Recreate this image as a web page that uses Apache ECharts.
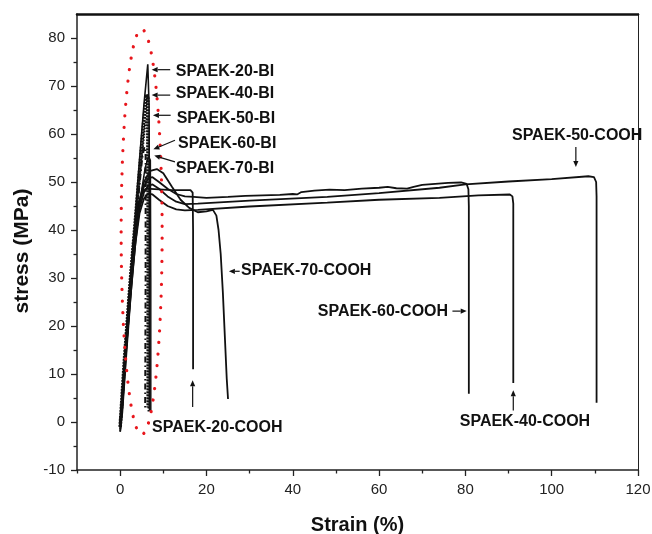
<!DOCTYPE html>
<html><head><meta charset="utf-8">
<script src="https://cdn.jsdelivr.net/npm/echarts@6/dist/echarts.min.js"></script>
<style>html,body{margin:0;padding:0;background:#fff}#c{width:652px;height:534px}</style>
</head><body><div id="c"></div>
<script>
// ---- tick labels ----
const xTickLabels = [0, 20, 40, 60, 80, 100, 120];
const xMinorTicks = [-10, 10, 30, 50, 70, 90, 110];
const yTickLabels = [-10, 0, 10, 20, 30, 40, 50, 60, 70, 80];
const yMinorTicks = [-5, 5, 15, 25, 35, 45, 55, 65, 75];

// ---- series values: [strain %, stress MPa] ----
const bi20 = [[0,-2],[0.5,3],[2,24],[4,49],[5.5,66],[6.4,74.5],[6.7,66],[6.8,40],[6.8,2.4]];
const bi40 = [[0,-1],[1,13],[2.5,31],[4,47],[5.3,61],[6.1,68.2],[6.4,67.5],[6.5,40],[6.5,3]];
const bi50 = [[0,0],[1.5,18],[3,36],[4.5,51],[5.8,62],[6.4,63.6],[6.6,60],[6.6,2]];
const bi60 = [[0,0],[1,11],[2.5,29],[4,45],[5.1,55],[5.6,57.3],[5.9,56.5],[5.9,30],[5.8,2.5]];
const bi70 = [[0,0],[1.5,16],[3,32],[4.5,45.5],[5.8,53],[6.6,55.3],[7.0,54.5],[7.1,30],[7.1,2]];

const cooh20 = [[0,-1],[1,13],[2,26],[3,37],[4,44.5],[5,47.8],[6,48.6],[8,48.5],[12,48.3],[16.3,48.3],[16.8,47.8],[16.9,40],[16.9,11]];
const cooh70 = [[0,-1],[0.5,5],[1.5,18],[2.5,30],[3.5,40],[4.5,46],[5.5,50],[7,52.3],[8.5,52.7],[10,51.8],[12,49],[14,46.3],[16,44.6],[18,43.7],[20,43.9],[21.5,44.2],[22.3,43],[22.8,40],[23.3,35],[23.8,27],[24.3,17],[24.7,9],[25,4.8]];
const cooh60 = [[0,-1],[0.5,4],[1.5,17],[2.5,29],[3.5,39],[4.5,45.5],[5.5,49],[6.5,50.8],[7.5,51],[9,50],[11,48.6],[13,47.5],[15,47],[17,46.9],[20,46.7],[25,46.9],[29,47.1],[33,47.2],[37,47.3],[40,47.5],[41,47.4],[42,47.9],[45,48.2],[48.5,48.4],[52,48.3],[56,48.6],[60,48.8],[62,49],[64,48.7],[66.5,48.6],[68,49],[70,49.4],[73,49.6],[76,49.8],[79,49.9],[80.3,49.6],[80.7,48.5],[80.8,45],[80.8,5.9]];
const cooh50 = [[0,-1.5],[0.5,3],[1.5,16],[2.5,28],[3.5,38],[4.5,44.5],[5.5,47.8],[6.5,49.2],[7.5,49.5],[9,48.6],[11,47],[13,45.9],[15,45.4],[18,45.5],[30,46.1],[48,46.9],[60,47.7],[74,48.8],[80,49.5],[90,50.1],[100,50.6],[108.5,51.2],[109.8,51],[110.3,50],[110.4,47],[110.4,4]];
const cooh40 = [[0,-2],[0.5,2],[1.5,15],[2.5,27],[3.5,37],[4.5,43.5],[5.5,46.5],[6.5,47.6],[7.5,47.4],[9,46.3],[11,45],[13,44.3],[15,44.1],[18,44.2],[30,44.9],[48,45.7],[60,46.3],[74,46.7],[83,47.2],[90.3,47.4],[90.9,47],[91.1,45.5],[91.1,8.1]];

// ---- annotations (data coords) ----
const annoText = ['SPAEK-20-BI','SPAEK-40-BI','SPAEK-50-BI','SPAEK-60-BI','SPAEK-70-BI','SPAEK-70-COOH','SPAEK-60-COOH','SPAEK-50-COOH','SPAEK-20-COOH','SPAEK-40-COOH'];
const annoAt = [[12.9,72.9],[12.9,68.4],[13.1,63.2],[13.4,58.0],[12.9,52.8],[28.0,31.6],[76.0,23.1],[105.9,59.7],[7.4,-1.1],[93.8,0.15]];
const annoAlign = ['left','left','left','left','left','left','right','center','left','center'];
const arrowFrom = [[11.6,73.4],[11.6,68.1],[11.7,63.9],[12.7,58.7],[12.7,54.2],[27.7,31.4],[77.0,23.1],[105.6,57.3],[16.8,3.1],[91.1,2.4]];
const arrowTo = [[7.3,73.4],[7.3,68.1],[7.6,63.9],[7.7,56.8],[7.9,55.5],[25.2,31.4],[80.3,23.1],[105.6,53.1],[16.8,8.7],[91.1,6.6]];

// ---- red dotted ellipse (data coords) ----
const ellipseCenter = [4.98, 39.6];
const ellipseRadius = [4.75, 42.2];

const FONT = '"Liberation Sans", Arial, sans-serif';
const chart = echarts.init(document.getElementById('c'), null, {renderer: 'canvas'});

function lineSeries(name, data, ls) {
  return {name, type: 'line', data, xAxisIndex: 0, yAxisIndex: 0, showSymbol: false, symbol: 'none',
    smooth: false, animation: false, lineStyle: Object.assign({color: '#111', width: 1.8}, ls), z: 3};
}
const series = [
  lineSeries('SPAEK-20-COOH', cooh20, {}),
  lineSeries('SPAEK-70-COOH', cooh70, {}),
  lineSeries('SPAEK-60-COOH', cooh60, {}),
  lineSeries('SPAEK-50-COOH', cooh50, {}),
  lineSeries('SPAEK-40-COOH', cooh40, {}),
  lineSeries('SPAEK-20-BI', bi20, {width: 1.6}),
  lineSeries('SPAEK-40-BI', bi40, {width: 3.6, type: [2, 1]}),
  lineSeries('SPAEK-50-BI', bi50, {width: 2.2, type: [1.5, 1.5]}),
  lineSeries('SPAEK-60-BI', bi60, {width: 2, type: [6, 3, 1.5, 3]}),
  lineSeries('SPAEK-70-BI', bi70, {width: 1.5})
];

const axisCommonX = {type: 'value', min: -10, max: 120, splitLine: {show: false}};
const axisCommonY = {type: 'value', min: -10, max: 85, splitLine: {show: false}};

chart.setOption({
  backgroundColor: '#fff',
  animation: false,
  grid: {left: 77, right: 14, top: 14, bottom: 64, containLabel: false, outerBoundsMode: 'none'},
  xAxis: [
    Object.assign({}, axisCommonX, {position: 'bottom',
      name: 'Strain (%)', nameLocation: 'middle', nameGap: 45,
      nameTextStyle: {fontFamily: FONT, fontWeight: 'bold', fontSize: 20, color: '#111'},
      axisLine: {onZero: false, lineStyle: {color: '#222', width: 1.5}},
      axisTick: {customValues: xTickLabels, length: 6, lineStyle: {color: '#222', width: 1.3}},
      axisLabel: {customValues: xTickLabels, margin: 12, fontFamily: FONT, fontSize: 15, color: '#222'}}),
    Object.assign({}, axisCommonX, {position: 'bottom',
      axisLine: {show: false, onZero: false},
      axisTick: {customValues: xMinorTicks, length: 3.5, lineStyle: {color: '#222', width: 1.3}},
      axisLabel: {show: false}}),
    Object.assign({}, axisCommonX, {position: 'top',
      axisLine: {onZero: false, lineStyle: {color: '#111', width: 2.5}},
      axisTick: {show: false}, axisLabel: {show: false}})
  ],
  yAxis: [
    Object.assign({}, axisCommonY, {position: 'left',
      name: 'stress (MPa)', nameLocation: 'middle', nameGap: 36, nameRotate: 90,
      nameTextStyle: {fontFamily: FONT, fontWeight: 'bold', fontSize: 21, color: '#111', padding: [0, 18, 0, 0]},
      axisLine: {onZero: false, lineStyle: {color: '#222', width: 1.5}},
      axisTick: {customValues: yTickLabels, length: 6, lineStyle: {color: '#222', width: 1.3}},
      axisLabel: {customValues: yTickLabels, margin: 12, fontFamily: FONT, fontSize: 15, color: '#222'}}),
    Object.assign({}, axisCommonY, {position: 'left',
      axisLine: {show: false, onZero: false},
      axisTick: {customValues: yMinorTicks, length: 3.5, lineStyle: {color: '#222', width: 1.3}},
      axisLabel: {show: false}}),
    Object.assign({}, axisCommonY, {position: 'right',
      axisLine: {onZero: false, lineStyle: {color: '#222', width: 1}},
      axisTick: {show: false}, axisLabel: {show: false}})
  ],
  series
});

// annotations via graphic, positioned from data coordinates
const toPx = p => chart.convertToPixel({seriesIndex: 0}, p);
const elements = [];
annoText.forEach((t, i) => {
  const p = toPx(annoAt[i]);
  elements.push({type: 'text', z: 10, style: {text: t, x: p[0], y: p[1], font: 'bold 16px ' + FONT,
    fill: '#111', textAlign: annoAlign[i], textVerticalAlign: 'middle', align: annoAlign[i], verticalAlign: 'middle'}});
  const a = toPx(arrowFrom[i]), b = toPx(arrowTo[i]);
  const dx = b[0] - a[0], dy = b[1] - a[1], len = Math.hypot(dx, dy) || 1;
  const ux = dx / len, uy = dy / len, hl = 6, hw = 2.6;
  const bx = b[0] - ux * hl, by = b[1] - uy * hl;
  elements.push({type: 'line', z: 10, shape: {x1: a[0], y1: a[1], x2: bx, y2: by}, style: {stroke: '#111', lineWidth: 1.2}});
  elements.push({type: 'polygon', z: 10, shape: {points: [[b[0], b[1]], [bx - uy * hw, by + ux * hw], [bx + uy * hw, by - ux * hw]]}, style: {fill: '#111'}});
});
const ec = toPx(ellipseCenter);
const er = toPx([ellipseCenter[0] + ellipseRadius[0], ellipseCenter[1] + ellipseRadius[1]]);
elements.push({type: 'ellipse', z: 9, shape: {cx: ec[0], cy: ec[1], rx: Math.abs(er[0] - ec[0]), ry: Math.abs(er[1] - ec[1])},
  style: {fill: null, stroke: '#e8161c', lineWidth: 3.2, lineDash: [0.1, 11.5], lineCap: 'round'}});
chart.setOption({graphic: {elements}});
</script></body></html>
